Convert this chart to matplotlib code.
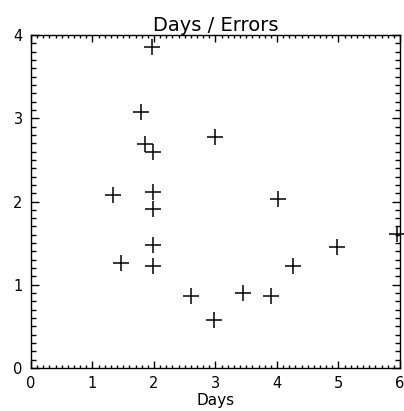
import matplotlib
matplotlib.use("Agg")
import matplotlib.pyplot as plt
from matplotlib.ticker import MultipleLocator

# Days vs. errors scatter
days = [1.97, 1.79, 1.85, 1.99, 2.99, 1.33, 1.98, 1.98, 4.02, 5.95,
        1.98, 4.98, 1.46, 1.98, 4.26, 2.60, 2.98, 3.45, 3.90]
errors = [3.86, 3.08, 2.69, 2.59, 2.78, 2.08, 2.11, 1.91, 2.03, 1.61,
          1.48, 1.45, 1.26, 1.22, 1.22, 0.87, 0.58, 0.90, 0.87]

fig = plt.figure(figsize=(4.04, 4.11), dpi=100)
ax = fig.add_axes([0.0767, 0.1046, 0.9133, 0.8102])

ax.plot(days, errors, linestyle="none", marker="+", color="black",
        markersize=12, markeredgewidth=1.1, clip_on=False)

ax.set_xlim(0, 6)
ax.set_ylim(0, 4)
ax.xaxis.set_major_locator(MultipleLocator(1))
ax.xaxis.set_minor_locator(MultipleLocator(0.1))
ax.yaxis.set_major_locator(MultipleLocator(1))
ax.yaxis.set_minor_locator(MultipleLocator(0.1))
ax.tick_params(which="both", direction="in", top=True, right=True,
               labelsize=10.5, width=1, color="black", pad=6)
ax.tick_params(axis="x", which="major", length=5)
ax.tick_params(axis="x", which="minor", length=2)
ax.tick_params(axis="y", which="major", length=6)
ax.tick_params(axis="y", which="minor", length=3.5)
for s in ax.spines.values():
    s.set_linewidth(1)

ax.set_xlabel("Days", fontsize=11, labelpad=1)
ax.set_title("Days / Errors", fontsize=14, pad=2)

fig.savefig("out.png", dpi=100)
